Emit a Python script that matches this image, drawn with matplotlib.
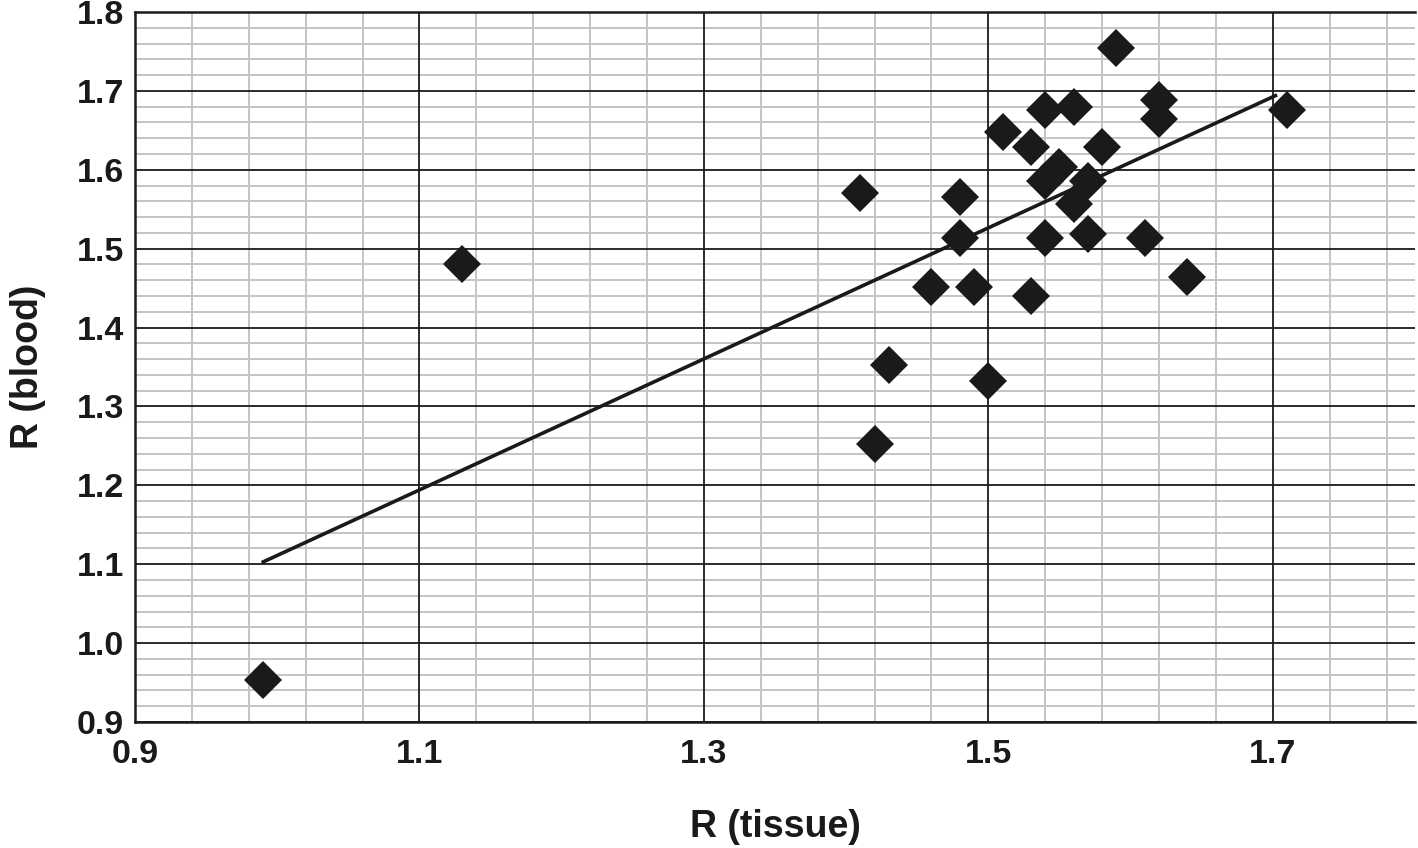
import numpy as np
import matplotlib
matplotlib.use("Agg")
import matplotlib.pyplot as plt
import matplotlib.ticker as ticker

# data
r_tissue = [0.99, 1.13, 1.41, 1.48, 1.48, 1.46, 1.49, 1.43, 1.42, 1.50,
            1.53, 1.51, 1.53, 1.54, 1.56, 1.59, 1.58, 1.62, 1.62, 1.71,
            1.61, 1.64, 1.55, 1.54, 1.57, 1.56, 1.57, 1.54]
r_blood = [0.953, 1.481, 1.571, 1.566, 1.514, 1.451, 1.451, 1.352, 1.252, 1.332,
           1.440, 1.648, 1.629, 1.676, 1.680, 1.754, 1.629, 1.689, 1.665, 1.676,
           1.514, 1.464, 1.603, 1.586, 1.586, 1.557, 1.519, 1.513]

# trend line end points as drawn
trend_x = [0.989, 1.703]
trend_y = [1.102, 1.695]

plt.rcParams['font.family'] = ['Liberation Sans', 'DejaVu Sans']
ink = '#1a1a1a'


def minor_only(minor, major):
    # drop minor positions that sit on a major line
    return [m for m in minor if np.min(np.abs(np.asarray(major) - m)) > 1e-6]


x_major = np.round(np.arange(0.9, 1.71, 0.2), 2)
y_major = np.round(np.arange(0.9, 1.801, 0.1), 2)
x_minor = minor_only(np.round(np.arange(0.9, 1.801, 0.04), 2), x_major)
y_minor = minor_only(np.round(np.arange(0.9, 1.801, 0.02), 2), y_major)

fig = plt.figure(figsize=(14.18, 8.48), dpi=100)
ax = fig.add_axes([0.0952, 0.1486, 0.9027, 0.8372])

ax.set_xlim(0.9, 1.8)
ax.set_ylim(0.9, 1.8)

ax.xaxis.set_major_locator(ticker.FixedLocator(x_major))
ax.yaxis.set_major_locator(ticker.FixedLocator(y_major))
ax.xaxis.set_major_formatter(ticker.FormatStrFormatter("%.1f"))
ax.yaxis.set_major_formatter(ticker.FormatStrFormatter("%.1f"))

# grid drawn by hand so the black lines sit over the grey ones
tr_v = ax.get_xaxis_transform()
tr_h = ax.get_yaxis_transform()
ax.vlines(x_minor, 0, 1, transform=tr_v, color='#c4c4c4', linewidth=1.4, zorder=0.5)
ax.hlines(y_minor, 0, 1, transform=tr_h, color='#c4c4c4', linewidth=1.4, zorder=0.5)
ax.vlines(x_major, 0, 1, transform=tr_v, color=ink, linewidth=1.3, zorder=1)
ax.hlines(y_major, 0, 1, transform=tr_h, color=ink, linewidth=1.3, zorder=1)

ax.tick_params(which='both', length=0)
ax.tick_params(axis='y', pad=8, labelsize=24.5, labelcolor=ink)
ax.tick_params(axis='x', pad=12, labelsize=24.5, labelcolor=ink)
for lab in ax.get_xticklabels() + ax.get_yticklabels():
    lab.set_fontweight('bold')

ax.spines['right'].set_visible(False)
for s in ['left', 'bottom', 'top']:
    ax.spines[s].set_color(ink)
    ax.spines[s].set_linewidth(1.8)

ax.plot(trend_x, trend_y, color=ink, linewidth=2.6, zorder=3,
        solid_capstyle='butt')
ax.plot(r_tissue, r_blood, linestyle='None', marker='D', markersize=19,
        color=ink, markeredgewidth=0, zorder=4, clip_on=False)

ax.set_xlabel('R (tissue)', fontsize=27, fontweight='bold', color=ink, labelpad=28)
ax.set_ylabel('R (blood)', fontsize=27, fontweight='bold', color=ink, labelpad=22)

fig.savefig('out.png', dpi=100)
